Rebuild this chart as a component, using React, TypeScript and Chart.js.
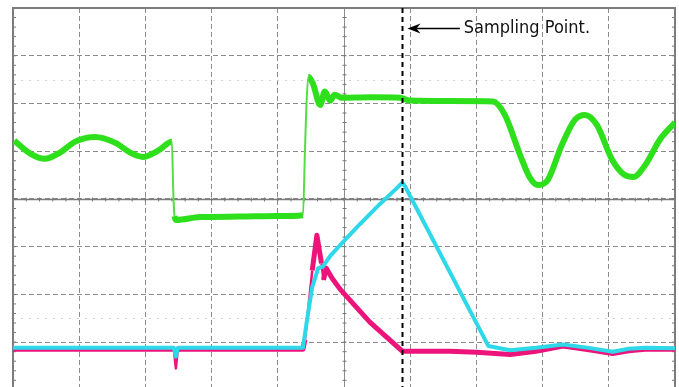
import React, { useEffect, useRef } from "react";
import { Chart, registerables } from "chart.js";
Chart.register(...registerables);

// Time in horizontal divisions (0..10), values in vertical divisions (-4..4)
const greenT = [0.02, 0.26, 0.48, 0.71, 0.94, 1.24, 1.54, 1.77, 1.96, 2.19, 2.40, 2.42, 2.44, 2.47, 2.82, 3.4, 4.0, 4.38, 4.41, 4.43, 4.46, 4.53, 4.64, 4.71, 4.79, 4.86, 4.97, 5.4, 5.85, 6.0, 6.6, 7.25, 7.43, 7.66, 7.81, 7.93, 8.08, 8.29, 8.49, 8.64, 8.82, 9.05, 9.24, 9.37, 9.55, 9.77, 10.0];
const greenV = [1.22, 0.95, 0.84, 0.97, 1.20, 1.30, 1.18, 0.97, 0.88, 1.01, 1.20, 0.2, -0.36, -0.44, -0.38, -0.37, -0.36, -0.34, 1.0, 1.87, 2.56, 2.42, 1.97, 2.25, 2.06, 2.18, 2.12, 2.13, 2.12, 2.06, 2.05, 2.04, 1.76, 0.92, 0.44, 0.29, 0.40, 1.13, 1.66, 1.76, 1.55, 0.82, 0.50, 0.46, 0.71, 1.24, 1.60];

const cyanT = [0, 1.2, 2.43, 2.46, 2.49, 3.4, 4.38, 4.44, 4.52, 4.61, 4.68, 4.79, 4.94, 5.24, 5.54, 5.77, 5.88, 5.92, 7.18, 7.51, 7.9, 8.31, 8.7, 9.06, 9.3, 9.55, 10];
const cyanV = [-3.12, -3.12, -3.12, -3.30, -3.12, -3.12, -3.12, -2.55, -1.85, -1.45, -1.42, -1.20, -0.97, -0.53, -0.11, 0.19, 0.34, 0.27, -3.08, -3.17, -3.12, -3.05, -3.12, -3.20, -3.14, -3.12, -3.13];

const magentaT = [0, 1.2, 2.43, 2.46, 2.49, 3.4, 4.38, 4.41, 4.52, 4.59, 4.66, 4.69, 4.73, 4.82, 4.94, 5.39, 5.88, 6.6, 7.0, 7.51, 7.9, 8.31, 8.7, 9.06, 9.3, 9.55, 10];
const magentaV = [-3.15, -3.15, -3.15, -3.55, -3.15, -3.15, -3.15, -2.95, -1.5, -0.76, -1.35, -1.70, -1.45, -1.66, -1.89, -2.58, -3.19, -3.19, -3.21, -3.26, -3.19, -3.08, -3.16, -3.24, -3.18, -3.15, -3.15];

const xTicks = [0, 1, 2, 3, 4, 5, 6, 7, 8, 9, 10];
const yTicks = [-3, -2, -1, 0, 1, 2, 3, 4];
const faintLevels = [2.5, -2.5];
const samplingT = 5.88;
const labelText = "Sampling Point.";
const arrowTailT = 6.75;
const arrowY = 3.59;
const labelT = 6.81;

const toPts = (t: number[], v: number[]) => t.map((x, i) => ({ x, y: v[i] }));

const scopePlugin = {
  id: "scope",
  beforeDatasetsDraw(chart: any) {
    const { ctx, chartArea: a, scales } = chart;
    const xs = scales.x, ys = scales.y;
    ctx.save();
    ctx.strokeStyle = "#cfcfcf";
    ctx.lineWidth = 1;
    ctx.setLineDash([2, 6]);
    faintLevels.forEach((v) => {
      const y = Math.round(ys.getPixelForValue(v)) + 0.5;
      ctx.beginPath(); ctx.moveTo(a.left, y); ctx.lineTo(a.right, y); ctx.stroke();
    });
    ctx.setLineDash([]);
    const cx = Math.round(xs.getPixelForValue(5)) + 0.5;
    const cy = Math.round(ys.getPixelForValue(0)) + 0.5;
    ctx.strokeStyle = "#7a7a7a";
    ctx.lineWidth = 1.5;
    ctx.beginPath(); ctx.moveTo(a.left, cy); ctx.lineTo(a.right, cy); ctx.stroke();
    ctx.lineWidth = 1;
    ctx.strokeStyle = "#8a8a8a";
    ctx.beginPath(); ctx.moveTo(cx, a.top); ctx.lineTo(cx, a.bottom); ctx.stroke();
    ctx.strokeStyle = "#777";
    ctx.lineWidth = 1;
    for (let t = 0; t <= 10.001; t += 0.2) {
      const x = xs.getPixelForValue(t);
      ctx.beginPath(); ctx.moveTo(x, cy - 2); ctx.lineTo(x, cy + 2); ctx.stroke();
    }
    for (let v = -4; v <= 4.001; v += 0.2) {
      const y = ys.getPixelForValue(v);
      if (y < a.top || y > a.bottom) continue;
      ctx.beginPath(); ctx.moveTo(cx - 2, y); ctx.lineTo(cx + 2, y); ctx.stroke();
      ctx.beginPath(); ctx.moveTo(a.left, y); ctx.lineTo(a.left + 3, y); ctx.stroke();
      ctx.beginPath(); ctx.moveTo(a.right - 3, y); ctx.lineTo(a.right, y); ctx.stroke();
    }
    ctx.strokeStyle = "#7d7d7d";
    ctx.lineWidth = 2;
    ctx.beginPath();
    ctx.moveTo(a.left, a.bottom + 2);
    ctx.lineTo(a.left, a.top);
    ctx.lineTo(a.right, a.top);
    ctx.lineTo(a.right, a.bottom + 2);
    ctx.stroke();
    ctx.restore();
  },
  afterDatasetsDraw(chart: any) {
    const { ctx, chartArea: a, scales } = chart;
    const xs = scales.x, ys = scales.y;
    ctx.save();
    const sx = Math.round(xs.getPixelForValue(samplingT)) + 0.5;
    ctx.strokeStyle = "#000";
    ctx.lineWidth = 2;
    ctx.setLineDash([5, 4]);
    ctx.beginPath(); ctx.moveTo(sx, a.top); ctx.lineTo(sx, a.bottom); ctx.stroke();
    ctx.setLineDash([]);
    const ay = Math.round(ys.getPixelForValue(arrowY)) + 0.5;
    const tip = sx + 5;
    const tail = xs.getPixelForValue(arrowTailT);
    ctx.lineWidth = 1.5;
    ctx.beginPath(); ctx.moveTo(tip + 6, ay); ctx.lineTo(tail, ay); ctx.stroke();
    ctx.fillStyle = "#000";
    ctx.beginPath();
    ctx.moveTo(tip, ay);
    ctx.lineTo(tip + 13, ay - 5);
    ctx.lineTo(tip + 9, ay);
    ctx.lineTo(tip + 13, ay + 5);
    ctx.closePath();
    ctx.fill();
    ctx.font = '18px "DejaVu Sans Condensed", "DejaVu Sans", sans-serif';
    ctx.textBaseline = "middle";
    ctx.textAlign = "left";
    ctx.fillStyle = "#111";
    ctx.fillText(labelText, xs.getPixelForValue(labelT), ay);
    ctx.restore();
  },
};

const isSteep = (c: any) => Math.abs(c.p1.y - c.p0.y) > 8 * Math.max(Math.abs(c.p1.x - c.p0.x), 0.1);

export default function App() {
  const ref = useRef<HTMLCanvasElement>(null);
  useEffect(() => {
    if (!ref.current) return;
    const chart = new Chart(ref.current, {
      type: "line",
      data: {
        datasets: [
          {
            data: toPts(greenT, greenV),
            borderColor: "#2ee01c",
            borderWidth: 6,
            pointRadius: 0,
            cubicInterpolationMode: "monotone",
            segment: {
              borderWidth: (c: any) => (isSteep(c) ? 2 : 6),
              borderColor: (c: any) => (isSteep(c) ? "#55dd44" : "#2ee01c"),
            },
          },
          {
            data: toPts(cyanT, cyanV),
            borderColor: "#2fd8e8",
            borderWidth: 4,
            pointRadius: 0,
            tension: 0,
            borderJoinStyle: "round",
          },
          {
            data: toPts(magentaT, magentaV),
            borderColor: "#ec137a",
            borderWidth: 5,
            pointRadius: 0,
            tension: 0,
            borderJoinStyle: "round",
            segment: { borderWidth: (c: any) => (isSteep(c) ? 2.5 : 5) },
          },
        ],
      },
      options: {
        responsive: false,
        animation: false,
        events: [],
        layout: { padding: { left: 13, top: 8, right: 4, bottom: 0 } },
        plugins: { legend: { display: false }, tooltip: { enabled: false } },
        scales: {
          x: {
            type: "linear",
            min: 0,
            max: 10,
            afterBuildTicks: (s: any) => { s.ticks = xTicks.map((value) => ({ value })); },
            ticks: { display: false },
            border: { display: false, dash: [5, 3] },
            grid: { color: "#8c8c8c", lineWidth: 1, drawTicks: false, tickLength: 0 },
          },
          y: {
            type: "linear",
            min: -3.94,
            max: 4,
            afterBuildTicks: (s: any) => { s.ticks = yTicks.map((value) => ({ value })); },
            ticks: { display: false },
            border: { display: false, dash: [5, 3] },
            grid: { color: "#8c8c8c", lineWidth: 1, drawTicks: false, tickLength: 0 },
          },
        },
      },
      plugins: [scopePlugin],
    } as any);
    return () => chart.destroy();
  }, []);
  return (
    <div style={{ position: "absolute", left: 0, top: 0, width: 679, height: 387, background: "#fff" }}>
      <canvas ref={ref} width={679} height={387} style={{ display: "block" }} />
    </div>
  );
}
